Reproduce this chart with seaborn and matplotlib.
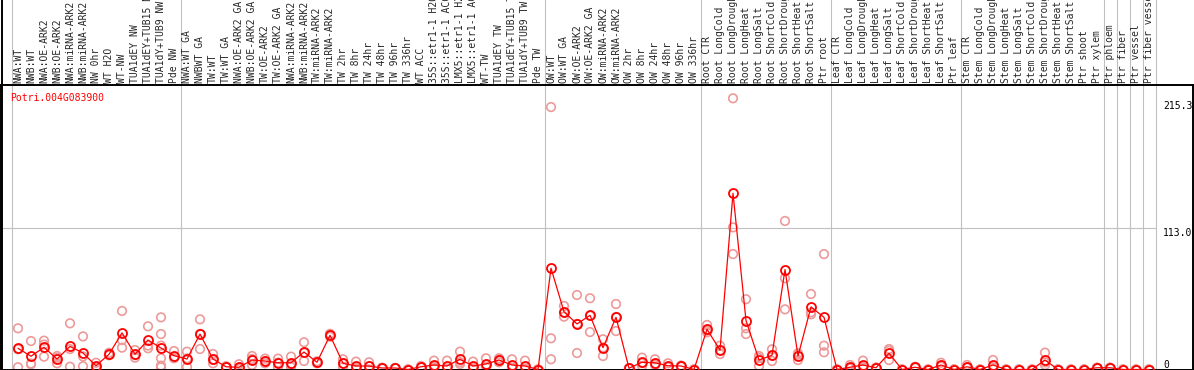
import numpy as np
import pandas as pd
import seaborn as sns
import matplotlib.pyplot as plt
from matplotlib.lines import Line2D

gene = "Potri.004G083900"

# sample labels per tissue block
nw_labels = ["NWA:WT", "NWB:WT", "NWA:OE-ARK2", "NWB:OE-ARK2", "NWA:miRNA-ARK2",
             "NWB:miRNA-ARK2", "NW 0hr", "WT H2O", "WT-NW", "TUA1dEY NW",
             "TUA1dEY+TUB15 NW", "TUA1dY+TUB9 NW", "Pde NW"]
tw_labels = ["NWA:WT GA", "NWBWT GA", "TW:WT", "TW:WT GA", "NWA:OE-ARK2 GA",
             "NWB:OE-ARK2 GA", "TW:OE-ARK2", "TW:OE-ARK2 GA", "NWA:miRNA-ARK2",
             "NWB:miRNA-ARK2", "TW:miRNA-ARK2", "TW:miRNA-ARK2", "TW 2hr", "TW 8hr",
             "TW 24hr", "TW 48hr", "TW 96hr", "TW 336hr", "WT ACC",
             "35S::etr1-1 H2O", "35S::etr1-1 ACC", "LMX5::etr1-1 H2O",
             "LMX5::etr1-1 ACC", "WT-TW", "TUA1dEY TW", "TUA1dEY+TUB15 TW",
             "TUA1dY+TUB9 TW", "Pde TW"]
ow_labels = ["OW:WT", "OW:WT GA", "OW:OE-ARK2", "OW:OE-ARK2 GA", "OW:miRNA-ARK2",
             "OW:miRNA-ARK2", "OW 2hr", "OW 8hr", "OW 24hr", "OW 48hr", "OW 96hr",
             "OW 336hr"]
root_labels = ["Root CTR", "Root LongCold", "Root LongDrought", "Root LongHeat",
               "Root LongSalt", "Root ShortCold", "Root ShortDrought",
               "Root ShortHeat", "Root ShortSalt", "Ptr root"]
leaf_labels = ["Leaf CTR", "Leaf LongCold", "Leaf LongDrought", "Leaf LongHeat",
               "Leaf LongSalt", "Leaf ShortCold", "Leaf ShortDrought",
               "Leaf ShortHeat", "Leaf ShortSalt", "Ptr leaf"]
stem_labels = ["Stem CTR", "Stem LongCold", "Stem LongDrought", "Stem LongHeat",
               "Stem LongSalt", "Stem ShortCold", "Stem ShortDrought",
               "Stem ShortHeat", "Stem ShortSalt", "Ptr shoot", "Ptr xylem"]
ptr_labels = ["Ptr phloem", "Ptr fiber", "Ptr vessel", "Ptr fiber vessel"]

# replicate expression values per sample
nw_reps = [[33.0, 16.2, 1.8], [22.8, 4.8, 4.2], [23.1, 20.0, 10.3], [10.8, 9.4, 5.0],
           [37.0, 16.4, 2.2], [26.5, 10.5, 2.6], [5.4, 2.0, 1.6], [13.4, 11.8, 11.4],
           [46.9, 23.6, 17.5], [15.6, 11.5, 9.5], [34.6, 19.2, 17.0],
           [41.8, 28.4, 19.1, 9.0, 3.1, 1.8], [14.8, 9.5, 9.0]]
tw_reps = [[14.3, 8.9, 2.0], [40.2, 28.6, 16.4], [12.4, 7.8, 5.0], [2.6, 2.0, 2.0],
           [4.2, 0.6, 0.6], [10.8, 8.4, 3.6], [8.7, 6.7, 5.0], [8.7, 5.5, 2.0],
           [10.3, 3.9, 2.0], [21.8, 13.4, 6.8], [6.6, 5.8, 5.0], [28.6, 27.4, 26.2],
           [8.2, 4.8, 2.0], [6.3, 1.2, 0.9], [5.8, 2.6, 0.0], [1.5, 1.2, 0.9],
           [1.2, 1.2, 1.2], [0.0, 0.0, 0.0], [2.8, 2.0, 1.8], [7.1, 2.2, 1.5],
           [7.1, 0.8, 0.5], [14.3, 5.9, 4.4], [6.3, 1.2, 0.9], [9.0, 2.2, 2.0],
           [9.0, 8.0, 5.8], [8.2, 1.4, 1.2], [7.1, 0.8, 0.5], [0.0, 0.0, 0.0]]
ow_reps = [[210.3, 25.0, 8.2], [50.9, 45.7, 42.3], [59.7, 36.6, 13.2],
           [57.1, 43.1, 30.0], [24.2, 17.5, 10.8], [52.5, 42.1, 30.8], [1.0, 1.0, 1.0],
           [9.5, 5.1, 2.8], [8.2, 4.4, 3.6], [5.0, 2.2, 1.8], [3.2, 2.8, 2.4],
           [0.0, 0.0, 0.0]]
root_reps = [[35.7, 31.1, 29.8], [19.1, 15.3, 12.4], [217.3, 113.9, 92.5],
             [56.3, 33.0, 28.4], [10.8, 9.2, 2.8], [16.2, 11.2, 6.8],
             [119.0, 73.1, 48.2], [13.0, 11.8, 7.6], [60.5, 45.8, 44.2],
             [92.5, 19.1, 13.8]]
leaf_reps = [[0.0, 0.0, 0.0], [3.6, 1.0, 0.8], [7.1, 2.0, 1.7], [1.6, 1.4, 1.2],
             [16.4, 15.0, 7.6], [0.0, 0.0, 0.0], [2.2, 1.8, 1.4], [0.0, 0.0, 0.0],
             [5.4, 3.0, 2.4], [0.0, 0.0, 0.0]]
stem_reps = [[3.6, 1.6, 1.4], [0.0, 0.0, 0.0], [7.6, 1.8, 1.4], [0.0, 0.0, 0.0],
             [0.0, 0.0, 0.0], [0.0, 0.0, 0.0], [13.5, 5.7, 3.6], [0.0, 0.0, 0.0],
             [0.0, 0.0, 0.0], [0.0, 0.0, 0.0], [1.4, 1.4, 1.4]]
ptr_reps = [[1.4, 1.4, 1.4], [0.0, 0.0, 0.0], [0.0, 0.0, 0.0], [0.0, 0.0, 0.0]]

axis_labels = ["215.3", "113.0", "0"]
axis_values = [215.3, 113.0, 0.0]

labels = nw_labels + tw_labels + ow_labels + root_labels + leaf_labels + stem_labels + ptr_labels
reps = nw_reps + tw_reps + ow_reps + root_reps + leaf_reps + stem_reps + ptr_reps
group_sizes = [len(nw_labels), len(tw_labels), len(ow_labels), len(root_labels),
               len(leaf_labels), len(stem_labels)] + [1] * len(ptr_labels)

rows = []
for i, vals in enumerate(reps):
    for v in vals:
        rows.append({"pos": i, "sample": labels[i], "value": v})
df = pd.DataFrame(rows)

sns.set_style("white")
plt.rcParams["font.family"] = ["DejaVu Sans Mono"]

fig = plt.figure(figsize=(11.94, 3.70), dpi=100)
ax = fig.add_axes([1 / 1194, 0.5 / 370, 1191.5 / 1194, 284.5 / 370])

pink = "#ec9a9a"
sns.scatterplot(data=df, x="pos", y="value", color=pink, facecolors="none",
                edgecolor=pink, s=38, linewidth=1.2, zorder=2, ax=ax, legend=False)
sns.lineplot(data=df, x="pos", y="value", estimator="mean", errorbar=None,
             color="red", lw=0.9, marker="o", ms=6.5, mfc="none", mec="red",
             mew=1.3, zorder=3, ax=ax)

ax.set_xlim(-17 / 13, 1174.5 / 13)
ax.set_ylim(0, 284.5 / 1.248)

# group separators, running up through the label strip
bounds = np.concatenate([[0], np.cumsum(group_sizes)]) - 0.5
top_frac = 369.5 / 284.5
for b in bounds:
    ax.axvline(b, ymin=0, ymax=top_frac, clip_on=False, color="#c0c0c0", lw=0.8, zorder=0)
ax.hlines(113.0, -17 / 13, bounds[-1], color="#c0c0c0", lw=0.8, zorder=0)

# sample names on top
ax.set_xticks(range(len(labels)))
ax.set_xticklabels(labels, rotation=90, fontsize=7)
ax.tick_params(axis="x", top=True, bottom=False, labeltop=True, labelbottom=False,
               length=0, pad=1.5)
ax.set_yticks([])
ax.set_xlabel("")
ax.set_ylabel("")

for lab, val in zip(axis_labels, axis_values):
    ax.text(88.1, val, lab, fontsize=7, ha="left",
            va="bottom" if val == 0 else "top", color="black")

ax.text(-0.62, 221.6, gene, color="red", fontsize=7, ha="left", va="top")

for s in ax.spines.values():
    s.set_color("black")
    s.set_linewidth(1.4)
fig.add_artist(Line2D([1.5 / 1194, 1.5 / 1194], [0, 1], transform=fig.transFigure,
                      color="black", lw=1.4))

fig.savefig("out.png", dpi=100)
